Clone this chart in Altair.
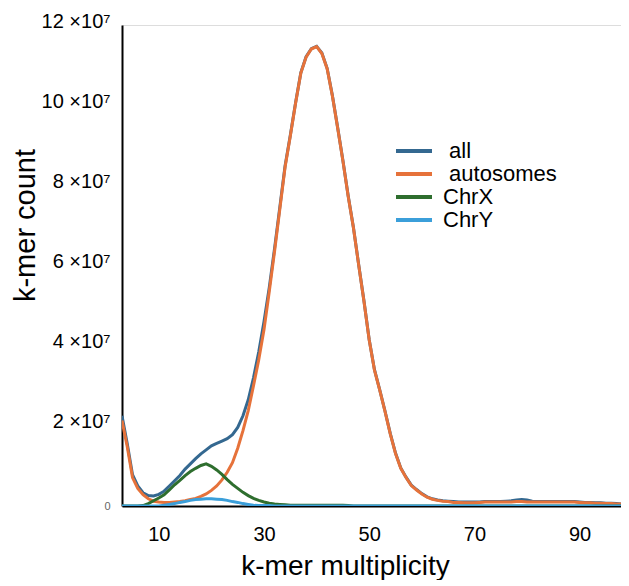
import altair as alt
import pandas as pd

# k-mer multiplicity (x) and counts in units of 10^7
MULT = list(range(3, 100))

ALL = [2.25, 1.55, 0.78, 0.50, 0.33, 0.26, 0.25, 0.29, 0.37, 0.50,
       0.63, 0.76, 0.92, 1.05, 1.18, 1.30, 1.40, 1.50, 1.56, 1.62,
       1.68, 1.78, 1.96, 2.25, 2.65, 3.20, 3.85, 4.60, 5.45, 6.42,
       7.45, 8.48, 9.25, 10.06, 10.81, 11.21, 11.41, 11.47, 11.30, 10.92,
       10.24, 9.44, 8.62, 7.74, 6.95, 6.02, 5.12, 4.15, 3.40, 2.90,
       2.37, 1.81, 1.32, 0.95, 0.72, 0.52, 0.41, 0.31, 0.23, 0.18,
       0.15, 0.13, 0.12, 0.11, 0.10, 0.10, 0.10, 0.10, 0.10, 0.11,
       0.11, 0.11, 0.11, 0.12, 0.13, 0.15, 0.16, 0.15, 0.12, 0.11,
       0.11, 0.11, 0.11, 0.11, 0.11, 0.11, 0.11, 0.10, 0.09, 0.09,
       0.08, 0.08, 0.07, 0.07, 0.06, 0.05, 0.05]

AUTOSOMES = [2.13, 1.48, 0.71, 0.44, 0.28, 0.18, 0.12, 0.10, 0.09, 0.09,
             0.10, 0.11, 0.13, 0.16, 0.19, 0.24, 0.30, 0.39, 0.50, 0.65,
             0.84, 1.08, 1.44, 1.88, 2.38, 3.00, 3.65, 4.40, 5.35, 6.35,
             7.40, 8.45, 9.23, 10.05, 10.80, 11.20, 11.40, 11.46, 11.29, 10.91,
             10.23, 9.43, 8.61, 7.73, 6.94, 6.01, 5.11, 4.14, 3.39, 2.89,
             2.36, 1.80, 1.31, 0.94, 0.71, 0.51, 0.40, 0.30, 0.22, 0.17,
             0.14, 0.12, 0.11, 0.09, 0.09, 0.08, 0.08, 0.08, 0.09, 0.10,
             0.10, 0.10, 0.10, 0.10, 0.10, 0.11, 0.11, 0.10, 0.10, 0.10,
             0.10, 0.10, 0.10, 0.10, 0.10, 0.10, 0.10, 0.09, 0.08, 0.08,
             0.07, 0.07, 0.06, 0.06, 0.05, 0.05, 0.05]

CHRX = [0.00, 0.00, 0.00, 0.00, 0.01, 0.06, 0.13, 0.20, 0.28, 0.40,
        0.53, 0.64, 0.76, 0.86, 0.94, 1.01, 1.05, 0.99, 0.90, 0.79,
        0.66, 0.54, 0.44, 0.34, 0.26, 0.19, 0.14, 0.10, 0.07, 0.05,
        0.04, 0.03, 0.02, 0.02, 0.02, 0.02, 0.02, 0.02, 0.02, 0.02,
        0.02, 0.02, 0.02, 0.01, 0.00, 0.00, 0.00, 0.00, 0.00, 0.00,
        0.00, 0.00, 0.00, 0.00, 0.00, 0.00, 0.00, 0.00, 0.00, 0.00,
        0.00, 0.00, 0.00, 0.00, 0.00, 0.00, 0.00, 0.00, 0.00, 0.00,
        0.00, 0.00, 0.00, 0.00, 0.00, 0.00, 0.00, 0.00, 0.00, 0.00,
        0.00, 0.00, 0.00, 0.00, 0.00, 0.00, 0.00, 0.00, 0.00, 0.00,
        0.00, 0.00, 0.00, 0.00, 0.00, 0.00, 0.00]

CHRY = [0.00, 0.00, 0.00, 0.00, 0.00, 0.00, 0.00, 0.00, 0.02, 0.04,
        0.06, 0.09, 0.11, 0.14, 0.16, 0.17, 0.18, 0.18, 0.17, 0.16,
        0.14, 0.11, 0.09, 0.06, 0.04, 0.02, 0.01, 0.01, 0.01, 0.00,
        0.00, 0.00, 0.00, 0.00, 0.00, 0.00, 0.00, 0.00, 0.00, 0.00,
        0.00, 0.00, 0.00, 0.00, 0.00, 0.00, 0.00, 0.00, 0.00, 0.00,
        0.00, 0.00, 0.00, 0.00, 0.00, 0.00, 0.00, 0.00, 0.00, 0.00,
        0.00, 0.00, 0.00, 0.00, 0.00, 0.00, 0.00, 0.00, 0.00, 0.00,
        0.00, 0.00, 0.00, 0.00, 0.00, 0.00, 0.00, 0.00, 0.00, 0.00,
        0.00, 0.00, 0.00, 0.00, 0.00, 0.00, 0.00, 0.00, 0.00, 0.00,
        0.00, 0.00, 0.00, 0.00, 0.00, 0.00, 0.00]

SERIES = ["all", "autosomes", "ChrX", "ChrY"]
COLORS = ["#346890", "#e6723a", "#2e6e2e", "#3b9fda"]
X_TICKS = [10, 30, 50, 70, 90]
Y_TICKS = [0, 2, 4, 6, 8, 10, 12]

rows = []
for name, vals in zip(SERIES, [ALL, AUTOSOMES, CHRX, CHRY]):
    for m, v in zip(MULT, vals):
        rows.append({"multiplicity": m, "count": v, "series": name})
df = pd.DataFrame(rows)

FONT = "Liberation Sans"

color = alt.Color(
    "series:N",
    scale=alt.Scale(domain=SERIES, range=COLORS),
    legend=alt.Legend(
        title=None,
        orient="none",
        legendX=281,
        legendY=115,
        padding=0,
        symbolType="M-3,0H3",
        symbolSize=144,
        symbolStrokeWidth=4,
        labelFontSize=22,
        labelFont=FONT,
        labelColor="black",
        labelOffset=18,
        rowPadding=1,
        labelExpr="(datum.label == 'all' || datum.label == 'autosomes') ? '\u200b\u00a0' + datum.label : datum.label",
    ),
)

x = alt.X(
    "multiplicity:Q",
    scale=alt.Scale(domain=[3, 97.87], nice=False, zero=False),
    axis=alt.Axis(
        values=X_TICKS,
        title="k-mer multiplicity",
        titleFontSize=28,
        titleFont=FONT,
        titleFontWeight="normal",
        titleColor="black",
        titleX=223,
        titleY=68,
        titleAlign="center",
        titleBaseline="alphabetic",
        labelFontSize=20,
        labelFont=FONT,
        labelColor="black",
        labelPadding=18,
        ticks=False,
        tickSize=0,
        domainColor="black",
        domainWidth=2,
        grid=False,
    ),
)

y = alt.Y(
    "count:Q",
    scale=alt.Scale(domain=[0, 12], nice=False),
    axis=alt.Axis(
        values=Y_TICKS,
        labelExpr="datum.value == 0 ? '0' : datum.value + ' \u00d710\u2077'",
        labelFontSize={"condition": {"test": "datum.value == 0", "value": 11}, "value": 20},
        labelColor={"condition": {"test": "datum.value == 0", "value": "#666666"}, "value": "black"},
        labelOffset={"condition": {"test": "datum.value == 0", "value": 0}, "value": -4},
        labelFont=FONT,
        labelPadding=12,
        title="k-mer count",
        titleFontSize=29,
        titleFont=FONT,
        titleFontWeight="normal",
        titleColor="black",
        titleX=-88,
        titleY=200,
        titleAngle=270,
        titleAlign="center",
        titleBaseline="alphabetic",
        ticks=False,
        tickSize=0,
        domainColor="black",
        domainWidth=2,
        grid=False,
    ),
)

base = alt.Chart(df).mark_line(strokeWidth=3, clip=True).encode(x=x, y=y, color=color)
layers = [base.transform_filter(alt.datum.series == s) for s in SERIES]

chart = (
    alt.layer(*layers)
    .properties(
        width=499,
        height=481,
        autosize=alt.AutoSizeParams(type="none"),
        padding={"left": 114, "top": 17, "right": 0, "bottom": 74},
    )
    .configure_view(stroke=None)
    .configure(background="white")
)

chart.save("out.html", embed_options={"renderer": "svg", "actions": False})
